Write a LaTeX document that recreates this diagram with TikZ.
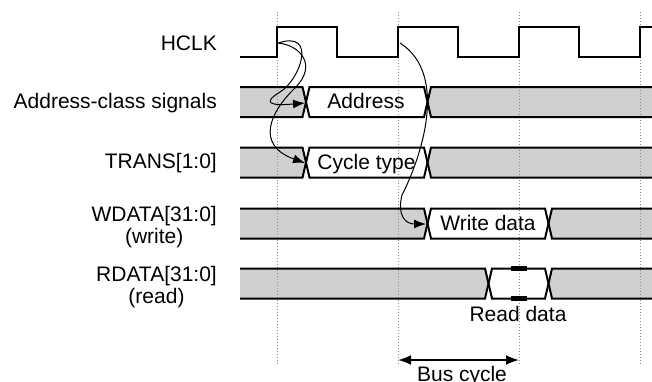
\documentclass[tikz,border=0pt]{standalone}
\usepackage{fontspec}
\setmainfont{Liberation Sans}
\usetikzlibrary{arrows.meta}
\definecolor{busgray}{RGB}{208,208,208}

\begin{document}
\begin{tikzpicture}[x=1pt, y=-1pt, every node/.style={inner sep=0pt, font=\fontsize{21}{22}\selectfont},
  busline/.style={line width=2pt},
  edgegrid/.style={black!45, dotted, line width=1pt},
  hop/.style={line width=1pt, -{Latex[length=12pt,width=9pt]}},
  span/.style={line width=2pt, {Latex[length=13pt,width=10pt]}-{Latex[length=13pt,width=10pt]}}]
\useasboundingbox (0,0) rectangle (652,381);
% bus fills
\foreach \m/\ca/\cb in {102/306/427.5, 162.5/306/427.5, 223.5/427.5/548.5, 283.5/488.5/548.5} {
  \fill[busgray] (240,\m-15) -- (\ca-3.5,\m-15) -- (\ca,\m) -- (\ca-3.5,\m+15) -- (240,\m+15) -- cycle;
  \fill[busgray] (652,\m-15) -- (\cb+3.5,\m-15) -- (\cb,\m) -- (\cb+3.5,\m+15) -- (652,\m+15) -- cycle;
}
% clock edges
\foreach \x in {277,398,519,640}
  \draw[edgegrid] (\x,12) -- (\x,365);
% bus outlines
\foreach \m/\ca/\cb in {102/306/427.5, 162.5/306/427.5, 223.5/427.5/548.5, 283.5/488.5/548.5} {
  \draw[busline] (240,\m-15) -- (\ca-3.5,\m-15) -- (\ca+3.5,\m+15) -- (\cb-3.5,\m+15) -- (\cb+3.5,\m-15) -- (652,\m-15);
  \draw[busline] (240,\m+15) -- (\ca-3.5,\m+15) -- (\ca+3.5,\m-15) -- (\cb-3.5,\m-15) -- (\cb+3.5,\m+15) -- (652,\m+15);
}
\draw[busline] (240,56.5) -| (277,26.5) -| (337,56.5) -| (398,26.5) -| (458,56.5) -| (519,26.5) -| (579,56.5) -| (640,26.5) -- (652,26.5);
\fill (511,266) rectangle (527,271);
\fill (511,296) rectangle (527,301);
% signal names
\node[anchor=base east] (SigClk) at (217,50) {HCLK};
\node[anchor=base east] (SigAddr) at (217,108.3) {Address-class signals};
\node[anchor=base east] (SigTrans) at (217,168.3) {TRANS[1:0]};
\node[anchor=east, align=center] (SigWdata) at (217,227.3) {WDATA[31:0]\\(write)};
\node[anchor=east, align=center] (SigRdata) at (217,287.3) {RDATA[31:0]\\(read)};
% bus values
\node[anchor=base] (ValAddr) at (366,108.5) {Address};
\node[anchor=base] (ValTrans) at (366.5,169) {Cycle type};
\node[anchor=base] (ValWdata) at (488,230) {Write data};
\node[anchor=base] (ValRdata) at (518,321.5) {Read data};
\node[anchor=base] (BusCyc) at (462,381) {Bus cycle};
% causality
\coordinate (E1) at (278,43);
\coordinate (E2) at (400,43);
\coordinate (XA) at (305,103);
\coordinate (XT) at (305,163);
\coordinate (XW) at (426,224);
\draw[hop] (E1) .. controls (318,30) and (300,80) .. (280,92) .. controls (262,103) and (270,106) .. (XA);
\draw[hop] (E1) .. controls (300,45) and (318,65) .. (295,88) .. controls (270,112) and (255,145) .. (XT);
\draw[hop] (E2) .. controls (450,75) and (420,160) .. (402,195) .. controls (397,215) and (405,224) .. (XW);
\coordinate (C1) at (398,360);
\coordinate (C2) at (519,360);
\draw[span] (C1) -- (C2);
\end{tikzpicture}
\end{document}
